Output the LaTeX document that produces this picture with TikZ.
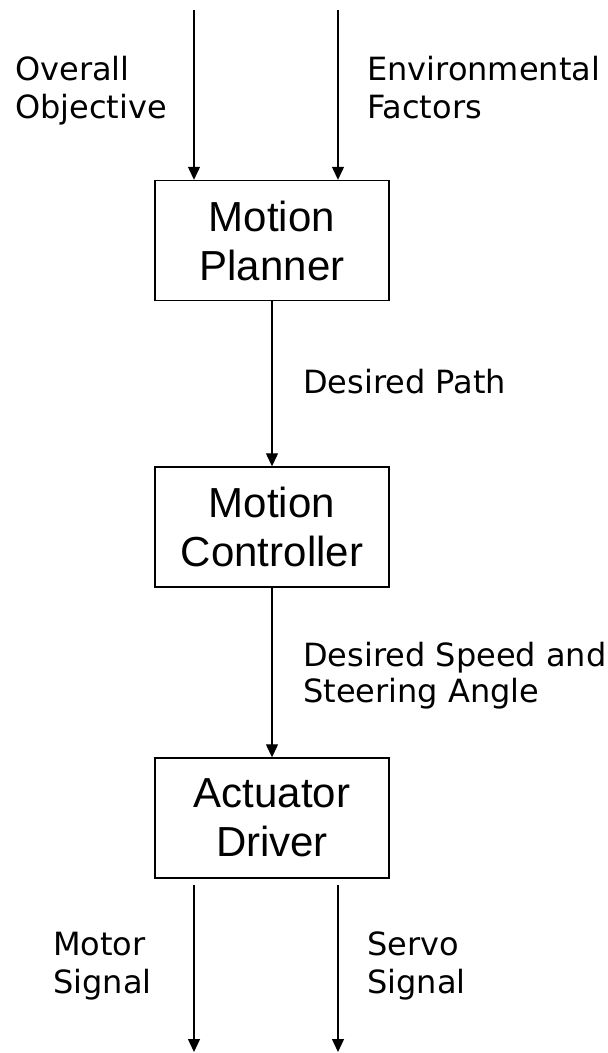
\documentclass[tikz,border=0pt]{standalone}
\usepackage{fontspec}
\setmainfont{Liberation Sans}
\newfontfamily\lblfont{DejaVu Sans}
\usetikzlibrary{arrows.meta}

\tikzset{
  stage/.style={draw, line width=1.4pt, minimum width=234pt, minimum height=120pt,
    inner sep=0pt, align=center,
    font=\fontsize{42pt}{49pt}\selectfont},
  flow/.style={line width=1.2pt, -{Triangle[length=13pt, width=12pt]}},
  % multi-line labels are placed by the baseline of their last line
  lbl/.style={anchor=base west, inner sep=0pt, align=left,
    font=\lblfont\fontsize{32pt}{38pt}\selectfont}
}

\begin{document}
\begin{tikzpicture}[x=1pt, y=1pt]
  \useasboundingbox (0,0) rectangle (608,-1053);

  % processing stages
  \node[stage] (planner)    at (272,-240.5) {Motion\\Planner};
  \node[stage] (controller) at (272,-527)   {Motion\\Controller};
  \node[stage] (driver)     at (272,-818)   {Actuator\\Driver};

  % free ends of the external inputs and outputs
  \coordinate (objIn) at (194,-10);
  \coordinate (envIn) at (338,-10);
  \coordinate (motorOut) at (194,-1052);
  \coordinate (servoOut) at (338,-1052);

  % inputs to the planner
  \draw[flow] (objIn) -- (objIn |- planner.north);
  \draw[flow] (envIn) -- (envIn |- planner.north);

  % chain between stages
  \draw[flow] (planner.south) -- (controller.north);
  \draw[flow] (controller.south) -- (driver.north);

  % driver outputs
  \draw[flow] ([yshift=-6pt]motorOut |- driver.south) -- (motorOut);
  \draw[flow] ([yshift=-6pt]servoOut |- driver.south) -- (servoOut);

  % signal labels
  \node[lbl] (lObj)   at (15,-118)  {Overall\\Objective};
  \node[lbl] (lEnv)   at (367,-118) {Environmental\\Factors};
  \node[lbl] (lPath)  at (303,-393) {Desired Path};
  \node[lbl, font=\lblfont\fontsize{32pt}{36pt}\selectfont]
             (lSpeed) at (303,-702) {Desired Speed and\\Steering Angle};
  \node[lbl] (lMotor) at (53,-993)  {Motor\\Signal};
  \node[lbl] (lServo) at (367,-993) {Servo\\Signal};
\end{tikzpicture}
\end{document}
